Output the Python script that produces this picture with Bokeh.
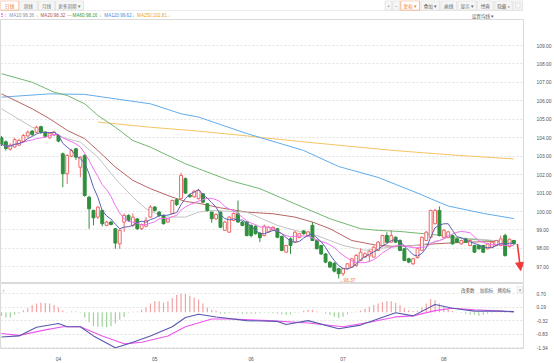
import numpy as np
import pandas as pd
from bokeh.plotting import figure
from bokeh.layouts import column
from bokeh.models import (Range1d, LinearAxis, FixedTicker, Grid, PrintfTickFormatter,
                          Label, BoxAnnotation, Arrow, NormalHead, ColumnDataSource, Span)
from bokeh.embed import file_html
from bokeh.resources import INLINE

# ---------------- data (daily candles) ----------------
opens = [104.0, 103.78, 103.38, 103.5, 103.6, 103.8, 104.1, 104.36, 104.3, 104.6,
         104.3, 104.0, 104.15, 104.12, 103.13, 102.05, 103.0, 103.4, 102.4, 103.04,
         100.78, 100.06, 99.7, 100.06, 99.25, 99.43, 99.07, 98.25, 99.43, 99.79,
         99.25, 99.6, 99.07, 99.2, 99.7, 100.24, 99.97, 99.79, 99.43, 99.9,
         100.64, 100.7, 101.78, 100.9, 100.8, 100.7, 100.96, 100.42, 99.97, 99.6,
         99.97, 98.98, 98.88, 99.52, 99.88, 99.43, 99.43, 99.25, 99.2, 98.83,
         98.7, 98.9, 99.0, 99.07, 98.65, 97.8, 98.52, 98.34, 98.6, 98.95,
         98.7, 99.25, 98.43, 98.16, 97.7, 97.26, 97.2, 96.9, 96.63, 96.9,
         96.99, 97.08, 97.35, 97.53, 97.6, 97.53, 97.89, 98.16, 98.7, 98.34,
         98.61, 98.43, 97.98, 97.44, 97.17, 97.5, 97.9, 98.43, 98.6, 99.34,
         100.06, 98.6, 98.6, 98.7, 98.52, 98.25, 98.52, 98.16, 98.16, 98.16,
         98.16, 97.98, 98.07, 98.16, 98.16, 98.7, 98.1, 98.43]
highs = [104.1, 103.85, 103.7, 104.0, 103.95, 104.2, 104.4, 104.42, 104.65, 104.65,
         104.35, 104.3, 104.38, 104.2, 103.2, 103.1, 103.4, 103.45, 103.0, 103.1,
         100.85, 100.1, 100.3, 100.1, 99.5, 99.5, 99.1, 99.05, 99.9, 99.85,
         99.9, 99.65, 99.35, 99.7, 100.35, 100.3, 100.02, 99.85, 99.65, 100.65,
         100.7, 102.1, 101.85, 100.95, 101.15, 101.2, 101.0, 100.45, 100.0, 99.9,
         100.0, 99.5, 99.75, 99.95, 100.6, 99.48, 99.48, 99.3, 99.25, 98.9,
         99.3, 99.2, 99.2, 99.1, 98.7, 98.2, 98.6, 98.95, 98.85, 99.0,
         98.95, 99.43, 98.5, 98.2, 97.75, 97.3, 97.25, 96.95, 96.95, 97.2,
         97.5, 97.7, 98.0, 97.8, 97.9, 98.15, 98.4, 98.75, 98.88, 99.0,
         98.65, 98.5, 98.0, 97.5, 97.5, 98.05, 98.65, 98.95, 100.1, 100.15,
         100.28, 99.05, 98.95, 98.75, 98.56, 98.48, 98.56, 98.48, 98.2, 98.2,
         98.2, 98.3, 98.38, 98.47, 98.7, 98.8, 98.55, 98.47]
lows = [103.55, 103.3, 103.3, 103.45, 103.55, 103.75, 104.0, 104.1, 104.25, 104.2,
        104.0, 103.95, 104.1, 103.75, 101.32, 101.5, 102.95, 102.8, 101.86, 100.8,
        99.07, 99.25, 99.6, 99.2, 99.2, 99.25, 97.98, 97.98, 98.9, 99.45,
        99.16, 99.0, 99.0, 99.15, 99.65, 100.0, 99.7, 99.3, 99.38, 99.85,
        100.3, 100.65, 100.95, 100.75, 100.75, 100.65, 100.45, 100.0, 99.4, 99.55,
        99.1, 98.95, 98.85, 99.48, 99.4, 99.2, 98.65, 98.6, 98.75, 98.34,
        98.65, 98.85, 98.95, 98.55, 97.85, 97.75, 97.7, 98.3, 98.55, 98.75,
        98.65, 98.4, 97.95, 97.65, 97.2, 96.95, 96.7, 96.37, 96.5, 96.85,
        96.95, 97.0, 97.3, 97.5, 97.26, 97.5, 97.85, 98.1, 98.3, 98.3,
        98.3, 97.85, 97.3, 97.2, 97.1, 97.45, 97.85, 98.4, 98.55, 99.3,
        98.65, 98.55, 98.55, 98.2, 98.3, 98.2, 98.3, 98.12, 97.75, 97.94,
        97.75, 97.95, 98.03, 98.12, 98.12, 97.55, 98.05, 98.2]
closes = [103.65, 103.42, 103.6, 103.9, 103.85, 104.12, 104.3, 104.18, 104.57, 104.3,
          104.07, 104.25, 104.3, 103.82, 102.05, 103.04, 103.31, 102.95, 102.95, 100.87,
          100.15, 99.66, 100.24, 99.34, 99.43, 99.3, 98.29, 98.98, 99.79, 99.52,
          99.7, 99.07, 99.3, 99.52, 100.24, 100.06, 99.79, 99.34, 99.6, 100.6,
          100.38, 101.96, 101.0, 100.8, 101.1, 101.14, 100.51, 100.06, 99.61, 99.85,
          99.15, 99.43, 99.7, 99.9, 99.43, 99.25, 98.7, 98.7, 98.8, 98.58,
          99.2, 99.15, 99.15, 98.61, 97.89, 98.16, 98.16, 98.88, 98.8, 98.8,
          98.9, 98.43, 97.98, 97.7, 97.26, 96.99, 96.77, 96.63, 96.9, 97.17,
          97.44, 97.62, 97.8, 97.71, 97.85, 98.07, 98.34, 98.7, 98.34, 98.7,
          98.34, 97.89, 97.35, 97.26, 97.44, 98.0, 98.6, 98.88, 100.06, 100.06,
          98.7, 98.98, 98.9, 98.25, 98.34, 98.43, 98.34, 98.43, 97.8, 97.98,
          97.8, 98.25, 98.34, 98.43, 98.52, 97.62, 98.5, 98.25]

# longer moving averages, read at sample candles
ma20_idx = [0, 7, 15, 18, 22, 26, 30, 33, 37, 42, 45, 48, 56, 63, 67, 72, 78, 83, 86, 91, 95, 99, 102, 108, 117]
ma20_val = [105.57, 104.57, 103.95, 103.76, 102.95, 101.78, 100.78, 100.15, 99.70, 99.70, 99.97, 100.06, 99.97,
            99.25, 98.98, 98.70, 98.16, 97.90, 98.00, 98.10, 98.16, 98.34, 98.60, 98.52, 98.34]
ma30_idx = [0, 7, 11, 15, 19, 22, 26, 30, 34, 39, 42, 45, 50, 56, 62, 67, 71, 75, 80, 86, 91, 99, 106, 117]
ma30_val = [106.38, 105.57, 105.03, 104.40, 103.95, 103.31, 102.41, 101.69, 101.24, 100.78, 100.55, 100.45,
            100.20, 99.97, 99.88, 99.70, 99.43, 99.07, 98.43, 98.16, 98.10, 98.25, 98.34, 98.40]
ma60_idx = [0, 7, 12, 15, 19, 22, 26, 30, 34, 38, 42, 45, 52, 59, 67, 75, 82, 86, 91, 99, 106, 117]
ma60_val = [107.47, 107.01, 106.47, 106.29, 105.84, 105.21, 104.57, 103.85, 103.49, 103.04, 102.59, 102.32,
            101.69, 101.24, 100.42, 99.61, 99.07, 98.98, 98.92, 98.74, 98.52, 98.34]
ma120_idx = [0, 11, 19, 26, 34, 41, 45, 56, 69, 77, 86, 95, 102, 110, 117]
ma120_val = [106.20, 106.38, 106.35, 106.11, 105.84, 105.30, 105.12, 104.23, 103.31, 102.44, 101.85, 101.00,
             100.30, 99.90, 99.62]
ma250_idx = [22, 34, 45, 56, 68, 79, 90, 104, 117]
ma250_val = [104.85, 104.57, 104.36, 104.10, 103.80, 103.55, 103.30, 103.05, 102.85]

# MACD
macd_hist = [-0.14, -0.2, -0.2, -0.1, -0.05, 0.07, 0.15, 0.27, 0.33, 0.36,
             0.35, 0.33, 0.27, 0.18, 0.06, 0.01, 0.03, 0.03, -0.02, -0.2,
             -0.38, -0.53, -0.55, -0.55, -0.57, -0.53, -0.43, -0.29, -0.18, -0.02,
             0.02, 0.03, 0.09, 0.18, 0.33, 0.41, 0.41, 0.36, 0.41, 0.53,
             0.65, 0.69, 0.69, 0.62, 0.56, 0.48, 0.33, 0.18, 0.09, 0.05,
             -0.06, -0.06, -0.04, -0.02, -0.04, -0.06, -0.06, -0.06, -0.06, -0.04,
             -0.02, -0.02, -0.04, -0.06, -0.08, -0.1, -0.08, -0.02, 0.01, 0.05,
             0.09, 0.09, 0.03, 0.01, -0.06, -0.1, -0.17, -0.22, -0.17, -0.08,
             -0.02, 0.02, 0.06, 0.13, 0.21, 0.27, 0.33, 0.38, 0.41, 0.41,
             0.36, 0.27, 0.15, 0.07, 0.04, 0.06, 0.18, 0.33, 0.5, 0.45,
             0.33, 0.21, 0.13, 0.04, -0.01, -0.02, -0.06, -0.1, -0.1, -0.14,
             -0.1, -0.06, -0.02, 0.01, 0.01, -0.03, -0.01, 0.0]
dif_idx = [0, 4, 8, 13, 15, 18, 21, 26, 29, 34, 39, 42, 45, 49, 56, 63, 65, 70, 77, 82, 90, 94, 99, 103, 108, 114, 117]
dif_val = [-0.94, -0.90, -0.57, -0.43, -0.55, -0.55, -0.90, -1.35, -1.20, -0.90,
           -0.55, -0.20, -0.08, -0.18, -0.32, -0.35, -0.47, -0.32, -0.63, -0.49,
           -0.02, -0.14, 0.29, 0.15, 0.04, 0.04, 0.02]
dea_idx = [0, 4, 10, 14, 18, 23, 28, 32, 38, 42, 48, 53, 61, 70, 78, 84, 90, 94, 99, 103, 108, 114, 117]
dea_val = [-0.81, -0.88, -0.67, -0.55, -0.55, -0.90, -1.20, -1.14, -0.90, -0.55, -0.26, -0.26,
           -0.32, -0.41, -0.55, -0.38, -0.18, -0.14, 0.06, 0.15, 0.09, 0.04, 0.01]

price_ticks = [97, 98, 99, 100, 101, 102, 103, 104, 105, 106, 107, 108, 109]
macd_ticks = [0.70, 0.19, -0.32, -0.83, -1.34]
month_idx = [13, 35, 57, 78, 101]
month_labels = ["04", "05", "06", "07", "08"]

legend_items = ["5", "\u2191", "MA10:98.36", "\u2193", "MA20:98.32", "\u2014", "MA60:98.16", "\u2193",
                "MA120:99.62", "\u2193", "MA250:102.81", "\u2193"]

# ---------------- styling ----------------
CJK = "Noto Sans CJK SC"
NUM = "Liberation Sans"
W = 554
H_HEAD, H_MAIN, H_MACD = 19, 264, 80
RIGHT = 26
C_UP = "#ee6868"
C_DN = "#2f8f3c"
C_NAVY = "#5c60b2"
C_PINK = "#f070f0"
C_GRAY = "#c2c2c2"
C_BROWN = "#b86565"
C_GREEN = "#72b872"
C_BLUE = "#62acea"
C_ORANGE = "#f5c465"
GRID = "#e2e2e2"
FRAME = "#dadada"

o = np.array(opens); h = np.array(highs); l = np.array(lows); c = np.array(closes)
n = len(c)
idx = np.arange(n)
cs = pd.Series(c)
ma5 = cs.rolling(5, min_periods=1).mean().values
ma10 = cs.rolling(10, min_periods=1).mean().values

# ---------------- header ----------------
hd = figure(width=W, height=H_HEAD, x_range=Range1d(0, 554), y_range=Range1d(0, 19),
            output_backend="svg", toolbar_location=None, x_axis_location=None,
            y_axis_location=None, min_border=0, outline_line_color=None)
hd.grid.visible = False


def hy(y):
    return 19 - y


def hbox(x0, x1, y0, y1, fill, line):
    hd.add_layout(BoxAnnotation(left=x0, right=x1, top=hy(y0), bottom=hy(y1),
                                fill_color=fill, fill_alpha=1.0, line_color=line,
                                line_alpha=1.0, line_width=0.8))


def htext(x, y, text, color, size="4.6px", font=CJK, align="center"):
    hd.add_layout(Label(x=x, y=hy(y), text=text, text_color=color, text_font_size=size,
                        text_font=font, text_align=align, text_baseline="middle"))


hd.add_layout(Span(location=hy(10), dimension="width", line_color="#ececec", line_width=1))
tabs = [("日线", 0, 19.5, True), ("周线", 20, 39, False), ("月线", 40, 57.5, False), ("更多周期 ▾", 58, 88, False)]
for t, a, b, sel in tabs:
    hbox(a, b, 0.3, 9.7, "white" if sel else "#f6f6f6", "#f1a77a" if sel else "#dedede")
for t, a, b, sel in tabs:
    htext((a + b) / 2, 5, t, "#ec7a3c" if sel else "#777777")

btns = [("+", 407.5, 414.5, False), ("\u2212", 415.5, 423, False), ("复权 ▾", 424, 444, True),
        ("叠加 ▾", 445.5, 465, False), ("画线", 466.5, 483, False), ("显示 ▾", 484.5, 504, False),
        ("经典", 505, 522, False), ("隐藏 »", 523.5, 542, False), ("", 543, 553, False)]
for t, a, b, sel in btns:
    hbox(a, b, 0.3, 9.7, "white" if sel else "#f6f6f6", "#f1a77a" if sel else "#dedede")
for t, a, b, sel in btns:
    if t:
        htext((a + b) / 2, 5, t, "#ec7a3c" if sel else "#666666")
hd.add_layout(BoxAnnotation(left=545.5, right=550.5, top=hy(2.5), bottom=hy(7.5), fill_alpha=0,
                            line_color="#888888", line_width=0.8, line_dash="2 1"))

leg_x = [1.5, 5.5, 22.5, 39, 55.5, 73, 89.5, 106, 124.5, 141, 160.5, 179]
leg_c = ["#e040e0", "#e040e0", "#8e8ea8", "#8e8ea8", "#b5524f", "#999999", "#2f9a3a", "#2f9a3a",
         "#3b8fe0", "#3b8fe0", "#f0a326", "#f0a326"]
for t, x, col in zip(legend_items, leg_x, leg_c):
    htext(x, 14.5, t, col, size="4.6px", font=NUM)
htext(511, 15, "设置均线 ▾", "#666666", size="4.6px")

# ---------------- main price panel ----------------
p = figure(width=W, height=H_MAIN, x_range=Range1d(-0.23, 119.2), y_range=Range1d(96.10, 110.41),
           output_backend="svg", toolbar_location=None, x_axis_location=None, y_axis_location=None,
           min_border_left=0, min_border_right=RIGHT, min_border_top=0, min_border_bottom=0,
           outline_line_color=FRAME, background_fill_color="white", border_fill_color="white")
p.grid.visible = False
p.add_layout(Grid(dimension=1, ticker=FixedTicker(ticks=price_ticks), grid_line_color=GRID,
                  grid_line_dash="2 2"))
yax = LinearAxis(ticker=FixedTicker(ticks=price_ticks), formatter=PrintfTickFormatter(format="%.2f"),
                 axis_line_color=None, major_tick_line_color=None, minor_tick_line_color=None,
                 major_label_text_font_size="4.9px", major_label_text_color="#555555",
                 major_label_text_font=NUM, major_label_standoff=7)
p.add_layout(yax, "right")

p.line(ma250_idx, ma250_val, line_color=C_ORANGE, line_width=1)
p.line(ma120_idx, ma120_val, line_color=C_BLUE, line_width=1)
p.line(ma60_idx, ma60_val, line_color=C_GREEN, line_width=1)
p.line(ma30_idx, ma30_val, line_color=C_BROWN, line_width=1)
p.line(ma20_idx, ma20_val, line_color=C_GRAY, line_width=1)

up = c >= o
dn = ~up
src_up = ColumnDataSource(dict(x=idx[up], hi=h[up], lo=l[up], top=c[up], bot=o[up]))
src_dn = ColumnDataSource(dict(x=idx[dn], hi=h[dn], lo=l[dn], top=o[dn], bot=c[dn]))
p.segment(x0="x", y0="lo", x1="x", y1="hi", source=src_up, line_color=C_UP, line_width=1)
p.vbar(x="x", width=0.66, top="top", bottom="bot", source=src_up, fill_color="white",
       line_color=C_UP, line_width=1)
p.segment(x0="x", y0="lo", x1="x", y1="hi", source=src_dn, line_color=C_DN, line_width=1)
p.vbar(x="x", width=0.66, top="top", bottom="bot", source=src_dn, fill_color=C_DN,
       line_color=C_DN, line_width=1)

p.line(idx, ma10, line_color=C_PINK, line_width=1)
p.line(idx, ma5, line_color=C_NAVY, line_width=1)

lo_i = int(np.argmin(l))
p.add_layout(Label(x=lo_i, y=l[lo_i], text="\u2190" + f"{l[lo_i]:.2f}", text_color="#e8823a",
                   text_font_size="4.8px", text_font=NUM, text_align="left",
                   text_baseline="middle", y_offset=-2))
p.add_layout(Arrow(end=NormalHead(size=8, fill_color="#f03a3a", line_color="#f03a3a"),
                   x_start=n - 0.2, y_start=c[-1], x_end=n + 0.55, y_end=c[-1] - 1.45,
                   line_color="#f03a3a", line_width=1.6))

# ---------------- MACD panel ----------------
m = figure(width=W, height=H_MACD, x_range=p.x_range, y_range=Range1d(-1.377, 1.087),
           output_backend="svg", toolbar_location=None, x_axis_location=None, y_axis_location=None,
           min_border_left=0, min_border_right=RIGHT, min_border_top=0, min_border_bottom=10,
           outline_line_color=FRAME, background_fill_color="white", border_fill_color="white")
m.grid.visible = False
m.add_layout(Grid(dimension=1, ticker=FixedTicker(ticks=macd_ticks), grid_line_color=GRID,
                  grid_line_dash="2 2"))
max_ = LinearAxis(ticker=FixedTicker(ticks=macd_ticks), formatter=PrintfTickFormatter(format="%.2f"),
                  axis_line_color=None, major_tick_line_color=None, minor_tick_line_color=None,
                  major_label_text_font_size="4.9px", major_label_text_color="#555555",
                  major_label_text_font=NUM, major_label_standoff=7)
m.add_layout(max_, "right")
xax = LinearAxis(ticker=FixedTicker(ticks=month_idx),
                 major_label_overrides={t: s for t, s in zip(month_idx, month_labels)},
                 axis_line_color=None, major_tick_line_color=None, minor_tick_line_color=None,
                 major_label_text_font_size="4.9px", major_label_text_color="#555555",
                 major_label_text_font=NUM, major_label_standoff=2)
m.add_layout(xax, "below")

hist = np.array(macd_hist)
hcol = ["#f2a2a2" if v >= 0 else "#9ed39a" for v in hist]
m.segment(x0=idx, y0=np.zeros(n), x1=idx, y1=hist, line_color=hcol, line_width=1.2)
m.line(dea_idx, dea_val, line_color="#ee55ee", line_width=1.1)
m.line(dif_idx, dif_val, line_color="#5658ad", line_width=1.1)


def mx(xr):
    return (xr - 1) / 4.42


def my(yr):
    return 0.70 - (yr - 294) * 0.0352


for t, xr in [("改参数", 471.5), ("加指标", 490.5), ("换指标", 508.5)]:
    m.add_layout(Label(x=mx(xr), y=my(290), text=t, text_color="#555555", text_font_size="4.5px",
                       text_font=CJK, text_align="center", text_baseline="middle"))
m.add_layout(BoxAnnotation(left=mx(521.5), right=mx(527), top=my(286.5), bottom=my(292.5),
                           fill_color="white", fill_alpha=1, line_color="#999999", line_width=0.8))
m.add_layout(Label(x=mx(524.2), y=my(289.5), text="\u00d7", text_color="#777777", text_font_size="5px",
                   text_font=NUM, text_align="center", text_baseline="middle"))
m.add_layout(Label(x=mx(3), y=my(291), text="\u2191", text_color="#888888", text_font_size="6px",
                   text_font=NUM, text_align="center", text_baseline="middle"))

layout = column(hd, p, m, spacing=0)
open("out.html", "w").write(file_html(layout, INLINE, title="K"))
